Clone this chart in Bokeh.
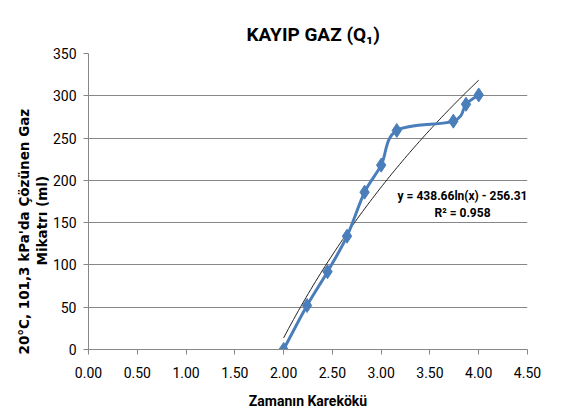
import numpy as np
from bokeh.plotting import figure
from bokeh.models import Label, FixedTicker, NumeralTickFormatter, Title
from bokeh.embed import file_html
from bokeh.resources import INLINE

# ---- data ----
x_vals = [2.00, 2.24, 2.45, 2.65, 2.83, 3.00, 3.16, 3.74, 3.87, 4.00]
y_vals = [0, 52, 92, 134, 186, 218, 259, 270, 290, 301]
x_ticks = [0.0, 0.5, 1.0, 1.5, 2.0, 2.5, 3.0, 3.5, 4.0, 4.5]
y_ticks = [0, 50, 100, 150, 200, 250, 300, 350]
title_text = "KAYIP GAZ (Q\u2081)"
x_label = "Zamanın Karekökü"
y_label_1 = "20°C, 101,3 kPa'da Çözünen Gaz"
y_label_2 = "Mikatrı (ml)"
eq_text = "y = 438.66ln(x) - 256.31"
r2_text = "R\u00b2 = 0.958"

BLUE = "#4A7EBB"
GRID = "#878787"
FONT = "Roboto"

p = figure(width=564, height=414, title=None, output_backend="svg",
           toolbar_location=None, x_range=(0, 4.5), y_range=(0, 350),
           min_border_left=88, min_border_right=37, min_border_top=53,
           min_border_bottom=65)
p.outline_line_color = None
p.background_fill_color = "white"
p.border_fill_color = "white"

# axes
p.xaxis.ticker = FixedTicker(ticks=x_ticks)
p.xaxis.formatter = NumeralTickFormatter(format="0.00")
p.yaxis.ticker = FixedTicker(ticks=y_ticks)
for ax in (p.xaxis, p.yaxis):
    ax.axis_line_color = GRID
    ax.major_tick_line_color = GRID
    ax.minor_tick_line_color = None
    ax.major_tick_out = 5
    ax.major_tick_in = 0
    ax.major_label_text_font = FONT
    ax.major_label_text_font_size = "14px"
    ax.major_label_text_color = "#000000"
p.xaxis.major_label_standoff = 12
p.yaxis.major_label_standoff = 7
p.xaxis.axis_label = x_label
p.xaxis.axis_label_text_font = FONT
p.xaxis.axis_label_text_font_style = "bold"
p.xaxis.axis_label_text_font_size = "14px"
p.xaxis.axis_label_text_line_height = 1.0
p.xaxis.axis_label_text_color = "#000000"
p.xaxis.axis_label_standoff = 12
p.xgrid.visible = False
p.ygrid.grid_line_color = GRID
p.ygrid.grid_line_width = 1

# logarithmic trendline fitted to the data
xs = np.asarray(x_vals, dtype=float)
ys = np.asarray(y_vals, dtype=float)
a, b = np.polyfit(np.log(xs), ys, 1)
tx = np.linspace(xs.min(), xs.max(), 80)
p.line(tx, a * np.log(tx) + b, line_color="#222222", line_width=1)

# smoothed series line (Catmull-Rom style bezier, like Excel's smooth line)
n = len(xs)
x0s, y0s, x1s, y1s, cx0s, cy0s, cx1s, cy1s = ([] for _ in range(8))
for i in range(n - 1):
    im1 = max(i - 1, 0)
    ip2 = min(i + 2, n - 1)
    x0s.append(xs[i]); y0s.append(ys[i])
    x1s.append(xs[i + 1]); y1s.append(ys[i + 1])
    cx0s.append(xs[i] + (xs[i + 1] - xs[im1]) / 6.0)
    cy0s.append(ys[i] + (ys[i + 1] - ys[im1]) / 6.0)
    cx1s.append(xs[i + 1] - (xs[ip2] - xs[i]) / 6.0)
    cy1s.append(ys[i + 1] - (ys[ip2] - ys[i]) / 6.0)
p.bezier(x0=x0s, y0=y0s, x1=x1s, y1=y1s, cx0=cx0s, cy0=cy0s, cx1=cx1s,
         cy1=cy1s, line_color=BLUE, line_width=3)
p.scatter(xs, ys, marker="diamond", size=14, fill_color=BLUE,
          line_color=BLUE)

# chart title
p.add_layout(Title(text=title_text, align="left", offset=158, text_font=FONT,
                   text_font_style="bold", text_font_size="19px",
                   text_color="#000000", standoff=16), "above")

# two-line y axis title (inner line added first)
p.add_layout(Title(text=y_label_2, align="left", offset=84,
                   text_font="DejaVu Sans", text_font_style="bold",
                   text_font_size="13.5px", text_color="#000000",
                   standoff=0), "left")
p.add_layout(Title(text=y_label_1, align="left", offset=-5,
                   text_font="DejaVu Sans", text_font_style="bold",
                   text_font_size="13.5px", text_color="#000000",
                   standoff=0), "left")

# trendline equation (screen units relative to the plot frame)
p.add_layout(Label(x=374, y=154, x_units="screen", y_units="screen",
                   text=eq_text, text_font=FONT, text_font_style="bold",
                   text_font_size="12px", text_align="center",
                   text_baseline="middle", text_color="#000000"))
p.add_layout(Label(x=374, y=137, x_units="screen", y_units="screen",
                   text=r2_text, text_font=FONT, text_font_style="bold",
                   text_font_size="12px", text_align="center",
                   text_baseline="middle", text_color="#000000"))

open("out.html", "w").write(file_html(p, INLINE))
